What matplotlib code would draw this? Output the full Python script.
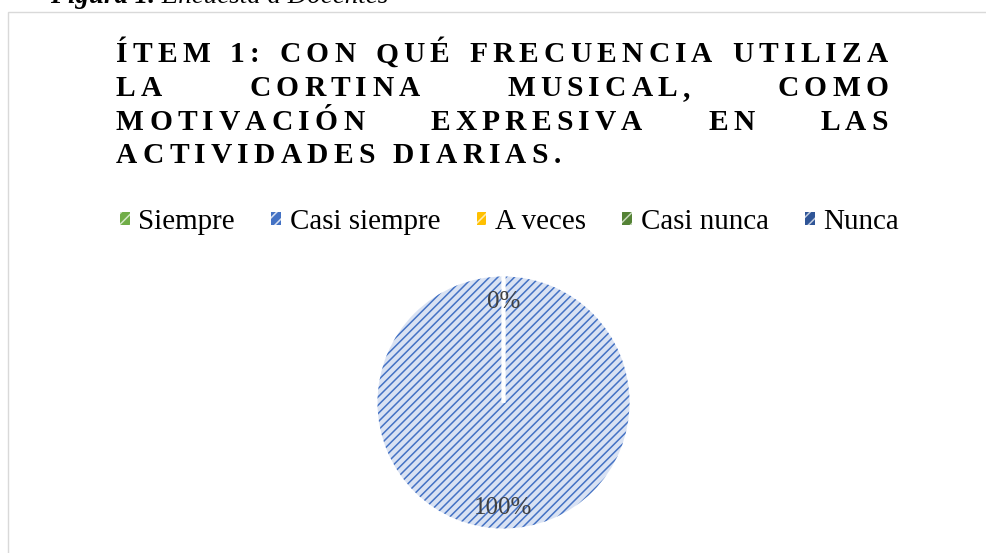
import matplotlib
matplotlib.use("Agg")
import matplotlib.pyplot as plt
from matplotlib import font_manager, ft2font
from matplotlib.patches import Patch, Rectangle

categories = ["Siempre", "Casi siempre", "A veces", "Casi nunca", "Nunca"]
values = [0, 100, 0, 0, 0]
colors = ["#70ad47", "#4472c4", "#ffc000", "#548235", "#2f5597"]
tints = ["#d5e8c8", "#d9e2f3", "#ffecb3", "#c8d9bd", "#c3cde0"]

title_lines = [
    "ÍTEM 1: CON QUÉ FRECUENCIA UTILIZA",
    "LA CORTINA MUSICAL, COMO",
    "MOTIVACIÓN EXPRESIVA EN LAS",
    "ACTIVIDADES DIARIAS.",
]
caption_bold = "Figura 1."
caption_rest = " Encuesta a Docentes"

DPI = 100
W, H = 986, 553
SERIF = "Liberation Serif"


def advances(text, weight="normal", style="normal", size_pt=12):
    path = font_manager.findfont(
        font_manager.FontProperties(family=SERIF, weight=weight, style=style))
    font = ft2font.FT2Font(path)
    font.set_size(size_pt, DPI)
    return [font.load_char(ord(c)).linearHoriAdvance / 65536 for c in text]


plt.rcParams["hatch.linewidth"] = 1.1
fig = plt.figure(figsize=(W / DPI, H / DPI), dpi=DPI)

# pixel canvas for frame, caption and title
bg = fig.add_axes([0, 0, 1, 1])
bg.set_xlim(0, W)
bg.set_ylim(H, 0)
bg.axis("off")

bg.add_patch(Rectangle((7.5, 11.5), 1200, 800, facecolor="white",
                       edgecolor="#d9d9d9", linewidth=1.0))

cap_pt = 27 * 72 / DPI
bg.text(50, 3, caption_bold, fontsize=cap_pt, family=SERIF,
        weight="bold", style="italic", va="baseline", ha="left")
cap_w = sum(advances(caption_bold, "bold", "italic", cap_pt))
bg.text(50 + cap_w, 3, caption_rest, fontsize=cap_pt, family=SERIF,
        style="italic", va="baseline", ha="left")

# letter-spaced, justified title
t_pt = 29.5 * 72 / DPI
track = 5.2
left, right = 116, 888
baselines = [62.5, 96, 129.5, 163]
for i, line in enumerate(title_lines):
    steps = [a + track for a in advances(line, "bold", size_pt=t_pt)]
    natural = sum(steps) - track
    n_sp = line.count(" ")
    extra = 0
    if i < len(title_lines) - 1 and n_sp:
        extra = (right - left - natural) / n_sp
    x = left
    for c, s in zip(line, steps):
        if c != " ":
            bg.text(x, baselines[i], c, fontsize=t_pt, family=SERIF,
                    weight="bold", color="black", ha="left", va="baseline")
        x += s + (extra if c == " " else 0)

# pie
ax = fig.add_axes([377.5 / W, (H - 528.5) / H, 252 / W, 252 / H])
wedges, _, autotexts = ax.pie(
    values, colors=tints, startangle=90, counterclock=False,
    autopct="%1.0f%%", pctdistance=0.815,
    wedgeprops=dict(linewidth=0),
    textprops=dict(family=SERIF, fontsize=25 * 72 / DPI, color="#404040"))
for w, c in zip(wedges, colors):
    w.set_hatch("////")
    w.set_edgecolor(c)

seen = set()
for t in autotexts:
    t.set_va("center_baseline")
    if t.get_text() in seen:
        t.set_visible(False)
    seen.add(t.get_text())

sep, _ = ax.pie(values, colors=["none"] * len(values), startangle=90,
                counterclock=False,
                wedgeprops=dict(edgecolor="white", linewidth=2.5))
for w, v in zip(sep, values):
    if v == sum(values):
        w.set_edgecolor("none")

ax.set_xlim(-1, 1)
ax.set_ylim(-1, 1)

handles = [Patch(facecolor=c, edgecolor=t, hatch="///", linewidth=0)
           for t, c in zip(tints, colors)]
fig.legend(handles, categories, loc="center", ncol=5, frameon=False,
           bbox_to_anchor=(509.5 / W, 1 - 222 / H),
           prop=dict(family=SERIF, size=29 * 72 / DPI),
           handlelength=0.34, handleheight=0.34, handletextpad=0.3,
           columnspacing=1.25, borderpad=0, borderaxespad=0)

fig.savefig("out.png", dpi=DPI)
